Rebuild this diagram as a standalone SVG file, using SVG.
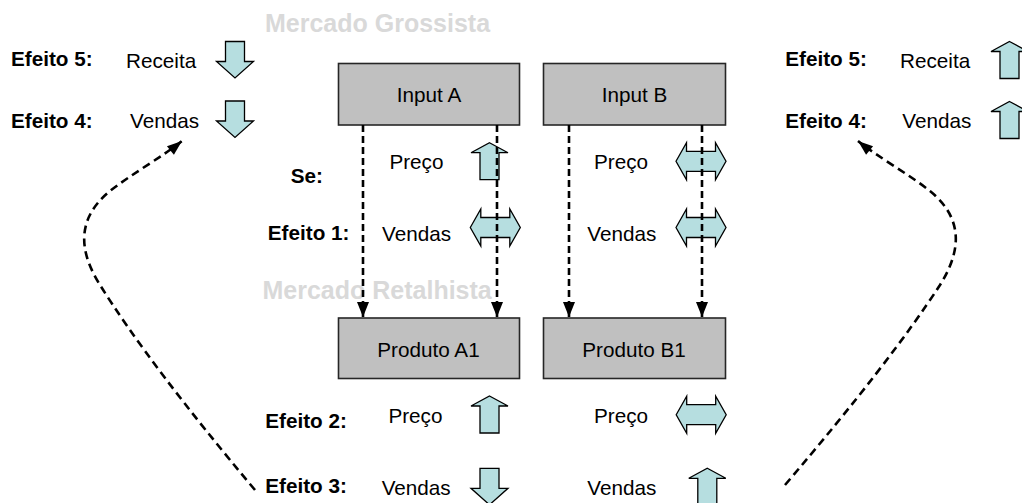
<svg xmlns="http://www.w3.org/2000/svg" width="1022" height="503" viewBox="0 0 1022 503">
<style>
text { font-family: "Liberation Sans", Arial, sans-serif; font-size: 20.7px; fill: #000; }
.b { font-weight: bold; }
.m { font-weight: bold; font-size: 25px; fill: #d9d9d9; }
.box { fill: #c0c0c0; stroke: #262626; stroke-width: 1.6; }
.blk { fill: #b6dee0; stroke: #000; stroke-width: 1.3; stroke-linejoin: miter; }
.vd { fill: none; stroke: #000; stroke-width: 2.6; stroke-dasharray: 7 4; }
.cd { fill: none; stroke: #000; stroke-width: 2.6; stroke-dasharray: 8 5; }
</style>
<defs>
<path id="up" d="M0,0 L18.5,10 L9.5,10 L9.5,37 L-9.5,37 L-9.5,10 L-18.5,10 Z"/>
<path id="down" d="M-9.5,0 L9.5,0 L9.5,20 L18.5,20 L0,36.5 L-18.5,20 L-9.5,20 Z"/>
<path id="dbl" d="M-25,0 L-14.5,-18.5 L-14.5,-10 L14.5,-10 L14.5,-18.5 L25,0 L14.5,18.5 L14.5,10 L-14.5,10 L-14.5,18.5 Z"/>
<marker id="va" markerUnits="userSpaceOnUse" markerWidth="12" markerHeight="15" refX="6" refY="15" orient="0" overflow="visible">
<path d="M0,0 L12,0 L6,15 Z" fill="#000"/>
</marker>
<marker id="ca" markerUnits="userSpaceOnUse" markerWidth="15" markerHeight="11" refX="15" refY="5.5" orient="auto" overflow="visible">
<path d="M0,0 L15,5.5 L0,11 Z" fill="#000"/>
</marker>
</defs>

<text class="m" x="265" y="31.7">Mercado Grossista</text>
<text class="m" x="262.5" y="299">Mercado Retalhista</text>

<g id="input-a">
<rect class="box" x="338.5" y="63.5" width="181" height="61.5"/>
<text x="429" y="101.7" text-anchor="middle">Input A</text>
</g>
<g id="input-b">
<rect class="box" x="543.5" y="63.5" width="182" height="61.5"/>
<text x="634.5" y="101.7" text-anchor="middle">Input B</text>
</g>
<g id="produto-a1">
<rect class="box" x="338.5" y="318" width="181" height="60.5"/>
<text x="428.5" y="356.7" text-anchor="middle">Produto A1</text>
</g>
<g id="produto-b1">
<rect class="box" x="543.5" y="318" width="182" height="60.5"/>
<text x="634" y="356.7" text-anchor="middle">Produto B1</text>
</g>

<g id="effects-left">
<text class="b" x="11" y="66">Efeito 5:</text>
<text x="126" y="68.3">Receita</text>
<use href="#down" class="blk" x="235" y="41.5"/>
<text class="b" x="11" y="127.7">Efeito 4:</text>
<text x="130" y="128.3">Vendas</text>
<use href="#down" class="blk" x="235" y="101"/>
</g>

<g id="effects-right">
<text class="b" x="785.2" y="66">Efeito 5:</text>
<text x="900" y="68.3">Receita</text>
<use href="#up" class="blk" x="1009.5" y="41.5"/>
<text class="b" x="785.2" y="127.7">Efeito 4:</text>
<text x="902.3" y="128.3">Vendas</text>
<use href="#up" class="blk" x="1009.5" y="101.5"/>
</g>

<g id="wholesale-effects">
<text class="b" x="290.7" y="182.7">Se:</text>
<text x="389.4" y="169.3">Preço</text>
<use href="#up" class="blk" x="489.5" y="142.7"/>
<text x="594" y="169.3">Preço</text>
<use href="#dbl" class="blk" x="701" y="161.3"/>
<text class="b" x="267.8" y="240">Efeito 1:</text>
<text x="382" y="240.7">Vendas</text>
<use href="#dbl" class="blk" x="495.3" y="227.5"/>
<text x="587.3" y="240.7">Vendas</text>
<use href="#dbl" class="blk" x="701" y="227.5"/>
</g>

<g id="retail-effects">
<text class="b" x="265.2" y="427.7">Efeito 2:</text>
<text x="388.4" y="423.3">Preço</text>
<use href="#up" class="blk" x="489.5" y="396"/>
<text x="594" y="422.7">Preço</text>
<use href="#dbl" class="blk" x="701.2" y="414.7"/>
<text class="b" x="265.2" y="493.3">Efeito 3:</text>
<text x="381.7" y="495">Vendas</text>
<use href="#down" class="blk" x="489.5" y="468.3"/>
<text x="587.3" y="495">Vendas</text>
<use href="#up" class="blk" x="707.3" y="468.3"/>
</g>

<g id="connectors">
<line class="vd" x1="363" y1="125" x2="363" y2="317" marker-end="url(#va)"/>
<line class="vd" x1="497" y1="125" x2="497" y2="317" marker-end="url(#va)"/>
<line class="vd" x1="569" y1="125" x2="569" y2="317" marker-end="url(#va)"/>
<line class="vd" x1="702" y1="125" x2="702" y2="317" marker-end="url(#va)"/>
<path class="cd" d="M255,490 Q150,365 100,285 C82.5,257 72,222 110,191 C130,175 165,155 182,141" marker-end="url(#ca)"/>
<path class="cd" d="M785,485 Q890,362 940,285 C957.5,257 968,222 930,191 C910,175 875,155 858,141" marker-end="url(#ca)"/>
</g>
</svg>
